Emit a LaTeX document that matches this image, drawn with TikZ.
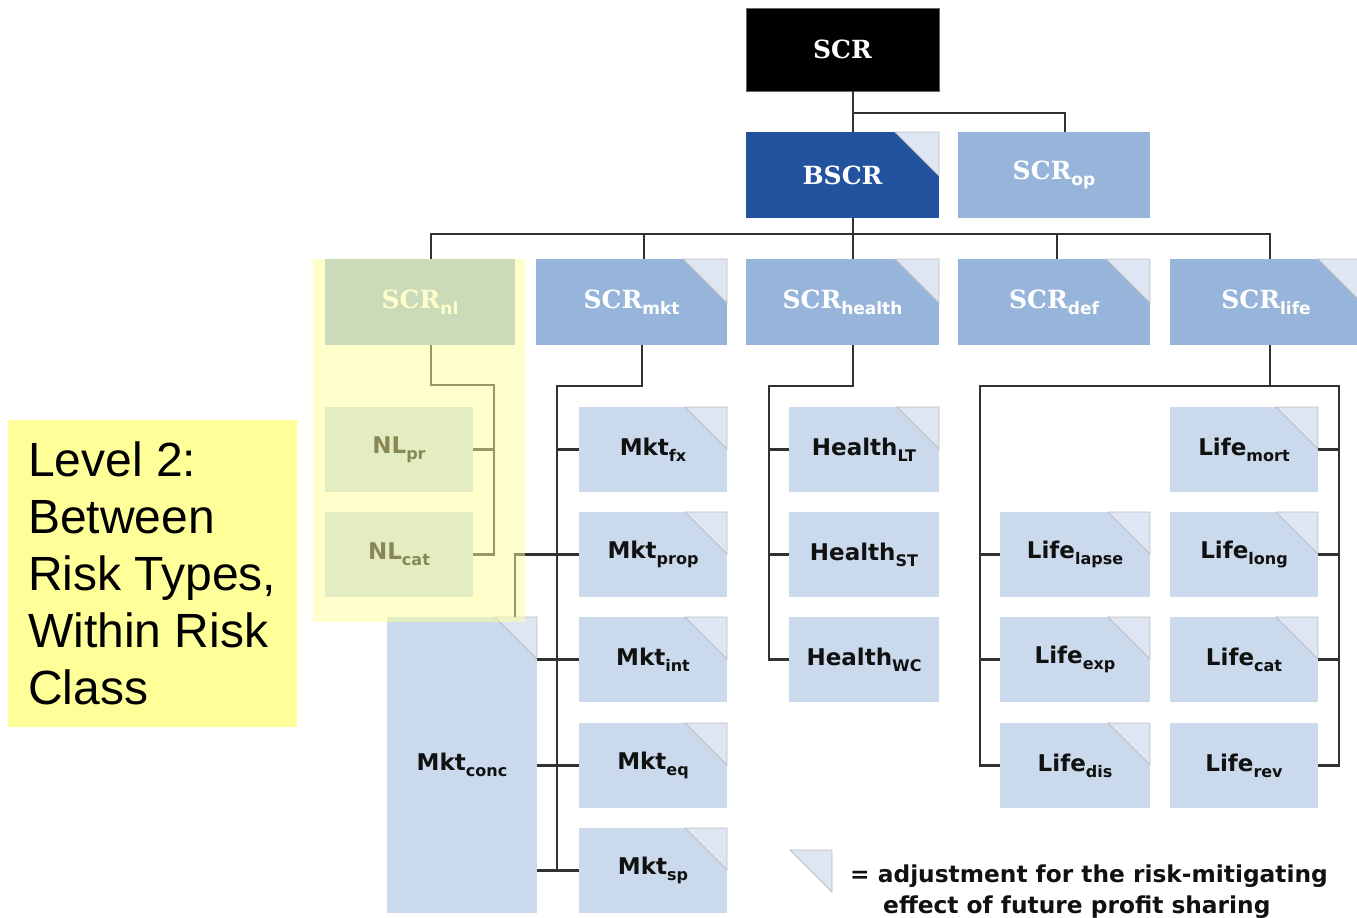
\documentclass[tikz,border=0pt]{standalone}
\usepackage{fontspec}
\setmainfont{DejaVu Sans}
\newfontfamily\mysans{DejaVu Sans}
\newfontfamily\myserif{DejaVu Serif}
\newfontfamily\myarial{Liberation Sans}
\definecolor{bscr}{RGB}{35,83,158}
\definecolor{lbtwo}{RGB}{151,181,218}
\definecolor{lbthree}{RGB}{202,218,236}
\definecolor{trif}{RGB}{221,230,242}
\definecolor{trid}{RGB}{190,190,190}
\definecolor{linec}{RGB}{50,50,50}
\definecolor{ylw}{RGB}{255,255,153}
\definecolor{txtc}{RGB}{17,17,17}
\newcommand\scrmain[1]{{\myserif\bfseries\fontsize{25}{25}\selectfont #1}}
\newcommand\scrlab[1]{\scrmain{SCR}\raisebox{-6pt}{\mysans\bfseries\fontsize{17}{17}\selectfont #1}}
\newcommand\sublab[2]{{\mysans\bfseries\fontsize{23}{23}\selectfont #1}\raisebox{-6pt}{\mysans\bfseries\fontsize{16}{16}\selectfont #2}}
\newcommand\ctri[2][42]{\filldraw[tri] (#2.north east) -- ++(-#1,0) -- ++(#1,#1) -- cycle;}
\tikzset{
  box/.style={rectangle, inner sep=0pt, outer sep=0pt},
  lvltwo/.style={box, fill=lbtwo, text=white, minimum width=#1, minimum height=86pt},
  lvlthree/.style={box, fill=lbthree, text=txtc, minimum width=#1, minimum height=85pt},
  tri/.style={fill=trif, draw=trid, line width=0.8pt, line join=miter},
  conn/.style={draw=linec, line width=2.2pt},
  lbltext/.style={anchor=base west, inner sep=0pt, font=\myarial\fontsize{48}{48}\selectfont},
  legtext/.style={anchor=base west, inner sep=0pt, font=\mysans\bfseries\fontsize{23.3}{23.3}\selectfont, text=txtc},
}
\begin{document}
\begin{tikzpicture}[x=1pt,y=-1pt]
\useasboundingbox (0,0) rectangle (1357,918);
\clip (0,0) rectangle (1357,918);

% ---------- connector junctions ----------
\coordinate (bus) at (853,234);
\coordinate (nlT) at (494,385);
\coordinate (mT) at (557,386);
\coordinate (hT) at (769,386);
\coordinate (lL) at (980,386);
\coordinate (lR) at (1339,386);

% ---------- level 0 / 1 ----------
\node[box, fill=black, draw=black!60, text=white, minimum width=193pt, minimum height=83pt] (scr) at (842.5,49.5) {\scrmain{SCR}};
\node[box, fill=bscr, text=white, minimum width=193pt, minimum height=86pt] (bscr) at (842.5,175) {\scrmain{BSCR}};
\node[lvltwo=192pt] (scrop) at (1054,175) {\scrlab{op}};

% ---------- level 2 ----------
\node[lvltwo=190pt] (nl) at (420,302) {\scrlab{nl}};
\node[lvltwo=191pt] (mkt) at (631.5,302) {\scrlab{mkt}};
\node[lvltwo=193pt] (health) at (842.5,302) {\scrlab{health}};
\node[lvltwo=192pt] (def) at (1054,302) {\scrlab{def}};
\node[lvltwo=192pt] (life) at (1266,302) {\scrlab{life}};

% ---------- level 3 ----------
\node[lvlthree=148pt] (nlpr) at (399,449.5) {\sublab{NL}{pr}};
\node[lvlthree=148pt] (nlcat) at (399,554.5) {\sublab{NL}{cat}};

\node[lvlthree=148pt] (mktfx) at (653,449.5) {\sublab{Mkt}{fx}};
\node[lvlthree=148pt] (mktprop) at (653,554.5) {\sublab{Mkt}{prop}};
\node[lvlthree=148pt] (mktint) at (653,659.5) {\sublab{Mkt}{int}};
\node[lvlthree=148pt] (mkteq) at (653,765.5) {\sublab{Mkt}{eq}};
\node[lvlthree=148pt] (mktsp) at (653,870.5) {\sublab{Mkt}{sp}};
\node[box, fill=lbthree, text=txtc, minimum width=150pt, minimum height=296pt] (mktconc) at (462,765) {\sublab{Mkt}{conc}};

\node[lvlthree=150pt] (hlt) at (864,449.5) {\sublab{Health}{LT}};
\node[lvlthree=150pt] (hst) at (864,554.5) {\sublab{Health}{ST}};
\node[lvlthree=150pt] (hwc) at (864,659.5) {\sublab{Health}{WC}};

\node[lvlthree=148pt] (lmort) at (1244,449.5) {\sublab{Life}{mort}};
\node[lvlthree=148pt] (llong) at (1244,554.5) {\sublab{Life}{long}};
\node[lvlthree=148pt] (lcat) at (1244,659.5) {\sublab{Life}{cat}};
\node[lvlthree=148pt] (lrev) at (1244,765.5) {\sublab{Life}{rev}};
\node[lvlthree=150pt] (llapse) at (1075,554.5) {\sublab{Life}{lapse}};
\node[lvlthree=150pt] (lexp) at (1075,659.5) {\sublab{Life}{exp}};
\node[lvlthree=150pt] (ldis) at (1075,765.5) {\sublab{Life}{dis}};

% ---------- corner triangles ----------
\ctri[44]{bscr}
\ctri[44]{mkt}
\ctri[44]{health}
\ctri[44]{def}
\ctri[44]{life}
\foreach \n in {mktfx,mktprop,mktint,mkteq,mktsp,mktconc,hlt,lmort,llong,lcat,llapse,lexp,ldis} {\ctri{\n}}

% ---------- connector lines ----------
\draw[conn] ([xshift=10.5pt]scr.south) -- ([xshift=10.5pt]bscr.north);
\draw[conn] ([xshift=10.5pt]scr.south) |- (1065,113) -- ([xshift=11pt]scrop.north);
\draw[conn] ([xshift=10.5pt]bscr.south) -- (bus);
\draw[conn] (bus) -| ([xshift=11pt]nl.north);
\draw[conn] (bus) -| ([xshift=12.5pt]mkt.north);
\draw[conn] (bus) -- ([xshift=10.5pt]health.north);
\draw[conn] (bus) -| ([xshift=3pt]def.north);
\draw[conn] (bus) -| ([xshift=4pt]life.north);

% NL
\draw[conn] ([xshift=11pt]nl.south) |- (nlT) -- (nlT |- nlcat.east) -- (nlcat.east);
\draw[conn] (nlpr.east) -- (nlpr.east -| nlT);
% Mkt
\draw[conn] ([xshift=10.5pt]mkt.south) |- (mT) -- (mT |- mktsp.west);
\draw[conn] (mktfx.west) -- (mktfx.west -| mT);
\draw[conn] (mktprop.west) -| ([xshift=53pt]mktconc.north);
\draw[conn] (mktint.west) -- (mktint.west -| mktconc.east);
\draw[conn] (mkteq.west) -- (mkteq.west -| mktconc.east);
\draw[conn] (mktsp.west) -- (mktsp.west -| mktconc.east);
% Health
\draw[conn] ([xshift=10.5pt]health.south) |- (hT) -- (hT |- hwc.west) -- (hwc.west);
\draw[conn] (hlt.west) -- (hlt.west -| hT);
\draw[conn] (hst.west) -- (hst.west -| hT);
% Life
\draw[conn] ([xshift=4pt]life.south) -- (1270,386);
\draw[conn] (ldis.west) -| (lL) -- (lR) |- (lrev.east);
\draw[conn] (llapse.west) -- (llapse.west -| lL);
\draw[conn] (lexp.west) -- (lexp.west -| lL);
\draw[conn] (lmort.east) -- (lmort.east -| lR);
\draw[conn] (llong.east) -- (llong.east -| lR);
\draw[conn] (lcat.east) -- (lcat.east -| lR);

% ---------- yellow highlight ----------
\fill[ylw, fill opacity=0.5] (313,259) rectangle (525,622);

% ---------- label box ----------
\node[box, fill=ylw, minimum width=289pt, minimum height=307pt, anchor=north west] (lbl) at (8,420) {};
\node[lbltext] (l1) at (28,476) {Level 2:};
\node[lbltext] (l2) at (28,533) {Between};
\node[lbltext] (l3) at (28,590) {Risk Types,};
\node[lbltext] (l4) at (28,647) {Within Risk};
\node[lbltext] (l5) at (28,704) {Class};

% ---------- legend ----------
\coordinate (legtri) at (832,850);
\filldraw[tri] (legtri) -- ++(-42,0) -- ++(42,42) -- cycle;
\node[legtext] (leg1) at (850,882) {= adjustment for the risk-mitigating};
\node[legtext] (leg2) at (883,913) {effect of future profit sharing};
\end{tikzpicture}
\end{document}
